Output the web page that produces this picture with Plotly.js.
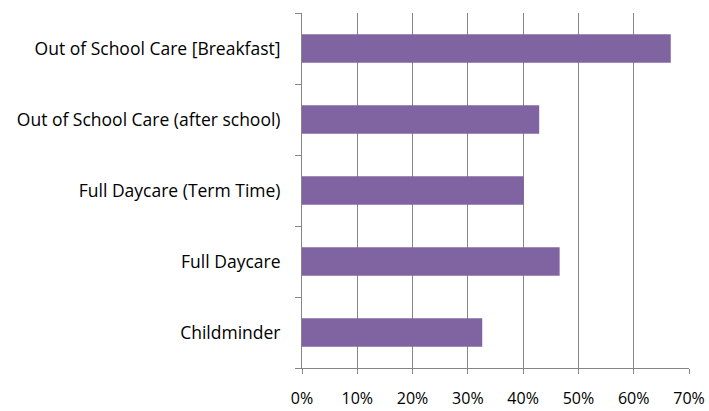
<!DOCTYPE html>
<html><head><meta charset="utf-8">
<script src="https://cdn.plot.ly/plotly-3.0.1.min.js"></script>
<style>html,body{margin:0;padding:0;background:#fff}#c{width:709px;height:411px}</style>
</head><body><div id="c"></div>
<script>
const categories = ["Childminder", "Full Daycare", "Full Daycare (Term Time)", "Out of School Care (after school)", "Out of School Care [Breakfast]"];
const values = [0.326, 0.466, 0.401, 0.429, 0.667];
const xTicks = [0, 0.1, 0.2, 0.3, 0.4, 0.5, 0.6, 0.7];
const xTickLabels = ["0%", "10%", "20%", "30%", "40%", "50%", "60%", "70%"];

const fontFam = "'Open Sans', sans-serif";
Plotly.newPlot("c", [{
  type: "bar", orientation: "h",
  y: categories, x: values,
  marker: {color: "#8064A2", line: {width: 0}},
  width: 0.4,
  hoverinfo: "skip"
}], {
  width: 709, height: 411,
  margin: {l: 302, r: 20, t: 13, b: 43, pad: 0},
  paper_bgcolor: "#fff", plot_bgcolor: "#fff",
  showlegend: false,
  font: {family: fontFam, size: 17.5, color: "#000"},
  xaxis: {
    range: [0, 0.7], tickvals: xTicks, ticktext: xTickLabels,
    tickfont: {family: fontFam, size: 16, color: "#000"},
    showgrid: true, gridcolor: "#868686", gridwidth: 1,
    showline: true, linecolor: "#868686", linewidth: 1,
    ticks: "outside", ticklen: 5, tickcolor: "#868686",
    ticklabelstandoff: 11, zeroline: false, fixedrange: true
  },
  yaxis: {
    type: "category", categoryorder: "array", categoryarray: categories,
    showgrid: false, showline: true, linecolor: "#868686", linewidth: 1,
    ticks: "outside", ticklen: 6, tickcolor: "#868686", tickson: "boundaries",
    ticklabelstandoff: 17, zeroline: false, fixedrange: true
  }
}, {staticPlot: true, displayModeBar: false});
</script></body></html>
